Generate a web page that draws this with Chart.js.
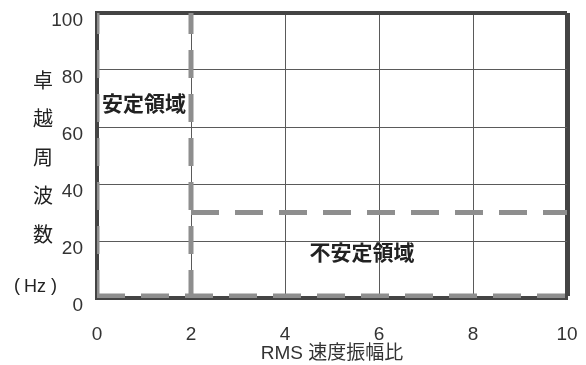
<!DOCTYPE html>
<html>
<head>
<meta charset="utf-8">
<script src="https://cdn.jsdelivr.net/npm/chart.js@4.4.1/dist/chart.umd.min.js"></script>
<style>
  html, body { margin: 0; padding: 0; background: #fff; }
  #wrap { width: 586px; height: 365px; position: relative; }
</style>
</head>
<body>
<div id="wrap"><canvas id="stabilityChart"></canvas></div>
<script>
// --- data ---
const xTicks = [0, 2, 4, 6, 8, 10];
const yTicks = [0, 20, 40, 60, 80, 100];

// boundary between stable / unstable regions (x = 2)
const boundaryX = [2, 2];
const boundaryY = [0, 100];
// upper limit of the unstable region
const unstableTopX = [2, 10];
const unstableTopY = [30, 30];
// lower dashed line along the bottom
const bottomX = [0, 10];
const bottomY = [0.7, 0.7];
// left edge of the stable region
const leftX = [0, 0];
const leftY = [0, 100];

const yTitleChars = ['卓', '越', '周', '波', '数'];
const regionLabels = [
    { text: '安定領域', x: 1.0, y: 68.4 },
    { text: '不安定領域', x: 5.64, y: 16.1 }
];

const toPoints = (xs, ys) => xs.map((x, i) => ({ x: x, y: ys[i] }));

const dashStyle = {
    showLine: true,
    borderColor: '#8e8e8e',
    borderWidth: 5,
    borderDash: [28, 16],
    pointRadius: 0,
    fill: false
};

const textFont = '"Liberation Sans", Arial, "Noto Sans CJK JP", sans-serif';
const cjkFont = '"Noto Sans CJK JP", sans-serif';

// --- region labels + stacked y-axis title ---
const labelsPlugin = {
    id: 'labelsPlugin',
    afterDraw(chart) {
        const ctx = chart.ctx;
        const xs = chart.scales.x, ys = chart.scales.y;
        ctx.save();
        ctx.fillStyle = '#222';
        ctx.textAlign = 'center';
        ctx.textBaseline = 'middle';
        ctx.font = 'bold 21px ' + cjkFont;
        regionLabels.forEach(l => {
            ctx.fillText(l.text, xs.getPixelForValue(l.x), ys.getPixelForValue(l.y));
        });
        ctx.font = '20px ' + cjkFont;
        yTitleChars.forEach((c, i) => {
            ctx.fillText(c, 43, 80 + i * 38.5);
        });
        ctx.font = '18px ' + textFont;
        ctx.fillText('(', 17, 286);
        ctx.fillText('Hz', 35, 287);
        ctx.fillText(')', 54, 286);
        ctx.restore();
    }
};

const ctx = document.getElementById('stabilityChart').getContext('2d');
const stabilityChart = new Chart(ctx, {
    type: 'scatter',
    data: {
        datasets: [
            Object.assign({ label: 'left', data: toPoints(leftX, leftY) }, dashStyle),
            Object.assign({ label: 'boundary', data: toPoints(boundaryX, boundaryY) }, dashStyle),
            Object.assign({ label: 'unstableTop', data: toPoints(unstableTopX, unstableTopY) }, dashStyle),
            Object.assign({ label: 'bottom', data: toPoints(bottomX, bottomY) }, dashStyle)
        ]
    },
    options: {
        responsive: true,
        maintainAspectRatio: false,
        animation: false,
        layout: { padding: { top: 13, right: 19, left: 0, bottom: 0 } },
        plugins: {
            legend: { display: false },
            tooltip: { enabled: false }
        },
        scales: {
            x: {
                type: 'linear',
                min: 0, max: 10,
                afterBuildTicks: s => { s.ticks = xTicks.map(v => ({ value: v })); },
                afterFit: s => { s.height = 67; s.paddingLeft = 0; s.paddingRight = 0; },
                ticks: { color: '#333', font: { size: 19, family: textFont }, padding: 25 },
                grid: {
                    color: ctx => (ctx.tick && ctx.tick.value === 10) ? '#444' : '#5a5a5a',
                    lineWidth: ctx => (ctx.tick && ctx.tick.value === 10) ? 5 : 1,
                    drawTicks: false
                },
                border: { display: true, color: '#444', width: 4 },
                title: {
                    display: true,
                    text: 'RMS 速度振幅比',
                    color: '#333',
                    font: { size: 19, family: textFont },
                    padding: { top: 0, bottom: 0 }
                }
            },
            y: {
                type: 'linear',
                min: 0, max: 100,
                afterBuildTicks: s => { s.ticks = yTicks.map(v => ({ value: v })); },
                afterFit: s => { s.width = 97; s.paddingTop = 0; s.paddingBottom = 0; },
                ticks: { color: '#333', font: { size: 19, family: textFont }, padding: 14, labelOffset: 8 },
                grid: {
                    color: ctx => (ctx.tick && ctx.tick.value === 100) ? '#444' : '#5a5a5a',
                    lineWidth: ctx => (ctx.tick && ctx.tick.value === 100) ? 4 : 1,
                    drawTicks: false
                },
                border: { display: true, color: '#444', width: 4 }
            }
        }
    },
    plugins: [labelsPlugin]
});
</script>
</body>
</html>
